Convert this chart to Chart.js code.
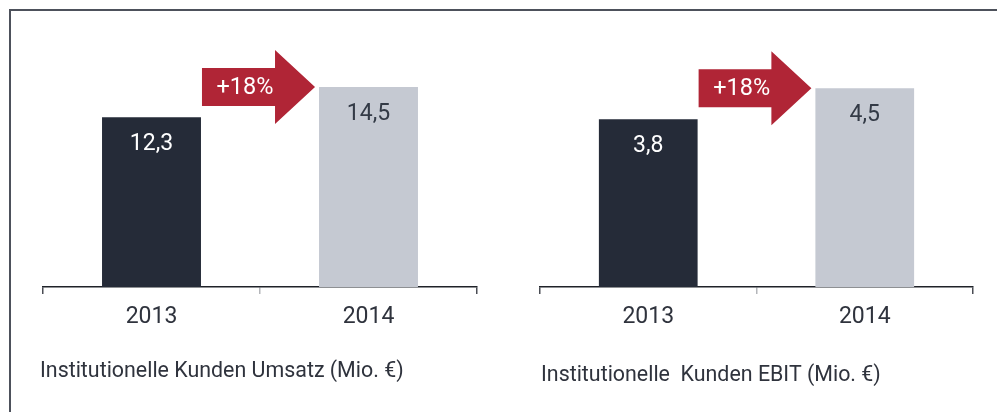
<!DOCTYPE html>
<html>
<head>
<meta charset="utf-8">
<script src="https://cdn.jsdelivr.net/npm/chart.js@4/dist/chart.umd.min.js"></script>
<style>
  body { margin: 0; background: #fff; }
  #wrap { position: relative; width: 997px; height: 412px; overflow: hidden; }
  #frame { position: absolute; left: 9px; top: 9px; width: 1100px; height: 500px;
           border-top: 2px solid #4d515b; border-left: 2px solid #4d515b; }
  .box { position: absolute; top: 0; width: 500px; height: 412px; }
</style>
</head>
<body>
<div id="wrap">
  <div id="frame"></div>
  <div class="box" style="left:0"><canvas id="umsatz" width="500" height="412"></canvas></div>
  <div class="box" style="left:497px"><canvas id="ebit" width="500" height="412"></canvas></div>
</div>
<script>
// data
const years = ['2013', '2014'];
const umsatz = [12.3, 14.5];
const ebit = [3.8, 4.5];
const growth = '+18%';
const umsatzTitle = 'Institutionelle Kunden Umsatz (Mio. €)';
const ebitTitle = 'Institutionelle  Kunden EBIT (Mio. €)';

const barColors = ['#252b38', '#c5c9d2'];
const red = '#b02536';
const textColor = '#2f333d';

// value labels, growth arrow and caption
const extras = {
  id: 'extras',
  afterDatasetsDraw(chart, args, opts) {
    const ctx = chart.ctx;
    const bars = chart.getDatasetMeta(0).data;
    const vals = chart.data.datasets[0].data;
    ctx.save();

    ctx.font = '23px Roboto';
    ctx.textAlign = 'center';
    ctx.textBaseline = 'middle';
    bars.forEach((b, i) => {
      ctx.fillStyle = i === 0 ? '#ffffff' : '#333a46';
      ctx.fillText(String(vals[i]).replace('.', ','), b.x, b.y + 27);
    });

    // arrow between the bars, tip at the top of the second bar
    const a = bars[0], c = bars[1];
    const x0 = a.x + a.width / 2 + 1;
    const tip = c.x - c.width / 2 - 4;
    const base = tip - 40;
    const y = c.y;
    ctx.fillStyle = red;
    ctx.beginPath();
    ctx.moveTo(x0, y - 19);
    ctx.lineTo(base, y - 19);
    ctx.lineTo(base, y - 37);
    ctx.lineTo(tip, y);
    ctx.lineTo(base, y + 37);
    ctx.lineTo(base, y + 19);
    ctx.lineTo(x0, y + 19);
    ctx.closePath();
    ctx.fill();
    ctx.fillStyle = '#ffffff';
    ctx.font = '23.5px Roboto';
    ctx.fillText(opts.growth, x0 + 43, y + 1);

    // caption
    ctx.font = '21.4px Roboto';
    ctx.textAlign = 'left';
    ctx.textBaseline = 'alphabetic';
    ctx.fillStyle = textColor;
    ctx.fillText(opts.title, opts.titleX, opts.titleY);
    ctx.restore();
  }
};

function makeChart(id, values, max, title, titleX, titleY, padRight) {
  return new Chart(document.getElementById(id), {
    type: 'bar',
    data: {
      labels: years,
      datasets: [{
        data: values,
        backgroundColor: barColors,
        categoryPercentage: 1,
        barPercentage: 0.456
      }]
    },
    options: {
      responsive: false,
      animation: false,
      layout: { padding: { top: 11, left: 43, right: padRight, bottom: 0 } },
      plugins: {
        legend: { display: false },
        tooltip: { enabled: false },
        extras: { growth: growth, title: title, titleX: titleX, titleY: titleY }
      },
      scales: {
        x: {
          afterFit(scale) { scale.height = 125; },
          border: { display: true, color: '#1f2229', width: 1.5 },
          grid: {
            offset: true,
            drawOnChartArea: false,
            drawTicks: true,
            tickLength: 7,
            lineWidth: 1.5,
            color: ctx => ctx.index === 1 ? '#b4b6ba' : '#4a4d54'
          },
          ticks: {
            color: textColor,
            font: { family: 'Roboto', size: 23 },
            padding: 9
          }
        },
        y: { display: false, min: 0, max: max }
      }
    },
    plugins: [extras]
  });
}

makeChart('umsatz', umsatz, 20, umsatzTitle, 40, 377, 23);
makeChart('ebit', ebit, 6.25, ebitTitle, 44, 381, 24);
</script>
</body>
</html>
